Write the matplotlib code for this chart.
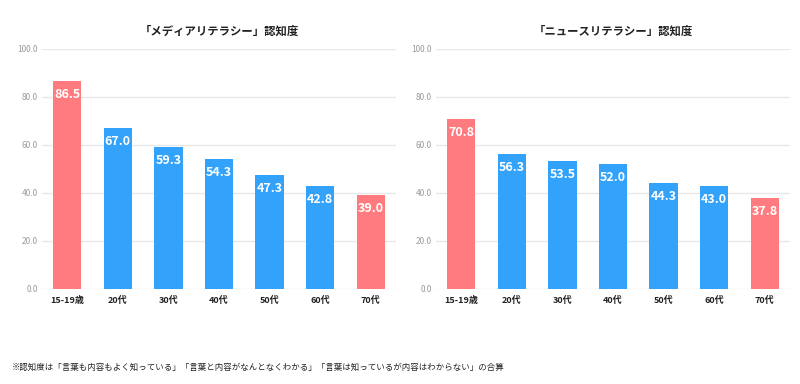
import matplotlib.pyplot as plt
import numpy as np

plt.rcParams['font.family'] = ['Noto Sans CJK JP', 'DejaVu Sans']

# datos
categorias = ["15-19歳", "20代", "30代", "40代", "50代", "60代", "70代"]
media = [86.5, 67.0, 59.3, 54.3, 47.3, 42.8, 39.0]
noticias = [70.8, 56.3, 53.5, 52.0, 44.3, 43.0, 37.8]
titulos = ["「メディアリテラシー」認知度", "「ニュースリテラシー」認知度"]
nota = "※認知度は「言葉も内容もよく知っている」「言葉と内容がなんとなくわかる」「言葉は知っているが内容はわからない」の合算"

ROJO = "#FF7B80"
AZUL = "#33A2FB"
colores = [ROJO, AZUL, AZUL, AZUL, AZUL, AZUL, ROJO]

fig = plt.figure(figsize=(8, 3.84), dpi=100)
posiciones = [[0.0525, 0.2474, 0.4425, 0.625], [0.545, 0.2474, 0.4425, 0.625]]

for pos, valores, titulo in zip(posiciones, [media, noticias], titulos):
    ax = fig.add_axes(pos)
    x = np.arange(len(categorias))
    barras = ax.bar(x, valores, width=0.56, color=colores, zorder=2)
    # etiquetas de valor dentro de la barra
    for b, v in zip(barras, valores):
        ax.annotate(f"{v:.1f}", (b.get_x() + b.get_width() / 2, v),
                    xytext=(0, -5), textcoords="offset points",
                    ha="center", va="top", color="white",
                    fontsize=9, fontweight="bold")
    ax.set_xlim(-0.5, 6.5)
    ax.set_ylim(0, 100)
    ax.set_yticks(np.arange(0, 101, 20))
    ax.set_yticklabels([f"{t:.1f}" for t in np.arange(0, 101, 20)],
                       fontsize=6, color="#9a9a9a")
    ax.set_xticks(x)
    ax.set_xticklabels(categorias, fontsize=6.5, fontweight="bold", color="#222222")
    ax.tick_params(length=0, pad=5)
    ax.tick_params(axis="y", pad=3)
    ax.grid(axis="y", color="#e8e8e8", linewidth=1, zorder=0)
    for s in ax.spines.values():
        s.set_visible(False)
    ax.set_title(titulo, fontsize=8.2, fontweight="bold", color="#222222", pad=10)

fig.text(0.015, 0.044, nota, fontsize=6.1, color="#222222", va="center")

plt.savefig("out.png", dpi=100)
